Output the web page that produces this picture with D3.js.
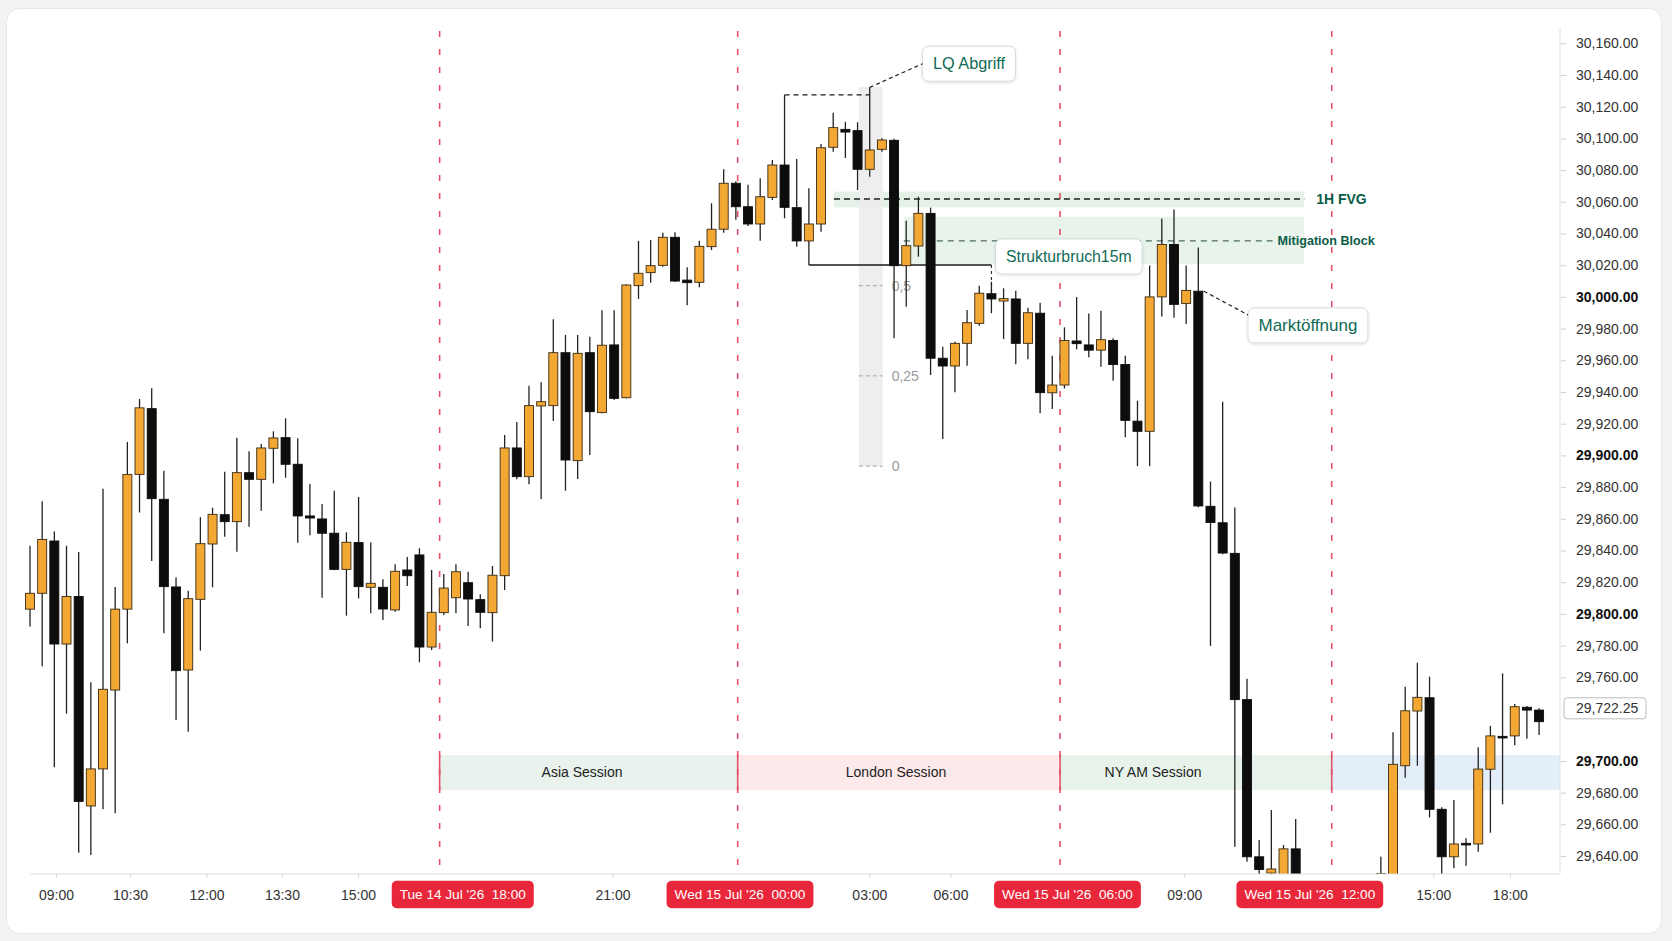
<!DOCTYPE html>
<html><head><meta charset="utf-8">
<script src="https://cdn.jsdelivr.net/npm/d3@7"></script>
<style>
html,body{margin:0;padding:0;background:#f3f3f3;}
svg{display:block;font-family:"Liberation Sans",Arial,Helvetica,sans-serif;}
</style></head><body>
<svg id="chart" width="1672" height="941"></svg>
<script>
// ---------------- DATA ----------------
// 15m candles, slot index 0..124 (null = candle outside the visible price window)
const opens = [29803,29813,29846,29781,29811,29671.6,29695,29744.5,29803,29888,
29929.5,29872.3,29817,29764.6,29809.2,29844.1,29862.6,29858.2,29889.1,29884.9,
29904.5,29911.2,29894.4,29861.8,29859.9,29850.9,29828.1,29845,29816.8,29816.8,
29802.5,29827.7,29837.2,29779.1,29800.8,29810.2,29819.7,29809,29800.8,29824.1,
29904.7,29886.6,29931.2,29931.4,29964.8,29896.7,29964.8,29927,29969.7,29936.4,
30007.1,30015.3,30019.9,30037.6,30010.6,30009.2,30031.7,30042.7,30071.7,30056.9,
30046,30062.8,30083.2,30056.3,30035.3,30046,30094.4,30105.7,30104.9,30080.5,
30093.1,30098.8,30019.7,30032.1,30052.7,29961.3,29956.4,29970.7,29983.3,30002,
29997.4,29998.7,29970.7,29989.7,29939.5,29944.4,29972.2,29969.7,29966.4,29972.5,
29957.3,29921.6,29915.2,30000,30033.1,29995.9,30003.6,29867.9,29857.5,29838.2,
29732.8,29639.5,29629.2,29620,29644.5,null,null,null,null,null,
null,29622,29618,29697,29721.1,29735.1,29669.5,29639.5,29648,29647.6,
29694.8,29710.4,29710.6,29723.5,29721.5];
const highs = [29843,29871,29852,29843,29839,29754,29879,29817,29908.5,29935.6,
29942.3,29890.3,29823,29814.6,29861,29867,29889.7,29911.2,29902.6,29907.2,
29915.2,29923.4,29910.8,29882,29869.3,29877.7,29851.5,29873.8,29845,29821.8,
29831.3,29835.9,29841.4,29827.7,29825.2,29831.3,29826.6,29812.4,29830.2,29912.9,
29921.1,29944,29946.1,29985.9,29976,29976,29974.9,29991.5,29991.5,30008,
30035.3,30035.9,30040.5,30040.8,30018.7,30035.5,30059.1,30080.5,30073,30070.8,
30074.8,30086.4,30127.4,30087,30068.5,30096.5,30116.2,30110.5,30110.2,30132.2,
30100.1,30099.8,30048.1,30063.2,30056.3,29968.6,29971.7,29991.7,30007.1,30009.6,
30005.4,30003.9,29993.2,29996.3,29962.8,29980.8,29999.9,29989.5,29991.2,29973.9,
29962.8,29934.5,30019.8,30049.5,30055.1,30019.8,30031.1,29883.5,29933.9,29867.1,
29758.3,29650.1,29669,29646.9,29663.4,null,null,null,null,null,
null,29639.5,29712.1,29748.6,29769.2,29760.4,29670.8,29675.4,29651.2,29705.8,
29714.8,29762.5,29727.5,29725.1,29722.25];
const lows = [29792,29767,29696,29720,29642,29640.6,29669.5,29667,29781.5,29864,
29833.4,29787.8,29717.3,29712.4,29776.8,29816.8,29848.7,29839.2,29855,29865.1,
29882.4,29885.9,29844.9,29849.6,29810.2,29827.5,29798.9,29809.8,29800.4,29796.2,
29801.4,29817.6,29769.5,29777.2,29799.3,29800.4,29792.4,29790.9,29782.5,29815.1,
29884.9,29881.8,29872.5,29921.7,29877.7,29885.1,29900.3,29926.6,29935,29936,
29998.7,30009,30019.1,30009.4,29994.7,30006.1,30029.6,30040.5,30048.6,30044.7,
30035.5,30061.1,30049.6,30031.7,30020.1,30041.1,30091.6,30087.6,30067.4,30075.8,
30091.6,29973.9,29993.8,30025.4,29950.7,29910.3,29939.8,29956.6,29981.8,29989.7,
29973.4,29957.5,29960.6,29926.6,29929.3,29942.2,29966.9,29962,29956,29947.1,
29911.4,29893.2,29893.2,29987.6,29986.8,29982.9,29867.3,29779.8,29837.6,29645.9,
29636.3,29625,29626,29615,29612,null,null,null,null,null,
null,29615,29612,29689.5,29697,29664.4,29627,29632.2,29633.9,29642.7,
29654.7,29672.6,29706.6,29709.4,29711];
const closes = [29813,29847,29781,29811,29674.5,29695,29745.4,29803,29888,29930,
29872.7,29817.2,29764.2,29809.6,29844.3,29862.8,29858.2,29889.1,29884.9,29904.7,
29911,29894.4,29861.8,29860.5,29850.9,29828.1,29845.2,29817.2,29819.3,29803.1,
29826.9,29824.1,29779.1,29801,29816.3,29826.6,29809.4,29801,29824.4,29904.7,
29886.6,29931.4,29933.9,29964.8,29897.1,29964.4,29927.6,29969.5,29936,30007.5,
30014.9,30019.7,30037.6,30010,30009,30031.9,30042.7,30071.7,30056.9,30046,
30063.2,30083.2,30056.5,30035.3,30046,30094.1,30106.8,30104,30080.5,30092.7,
30099,30019.7,30032.3,30052.7,29961.3,29956.4,29970.7,29983.7,30002.3,29998.7,
29998.9,29970.7,29990,29939.6,29944.4,29972.5,29970.5,29966.4,29973,29957.3,
29922.1,29915.2,30000,30033.1,29995.3,30004.1,29868.1,29857.7,29838.4,29732.8,
29639.5,29631.5,29631.8,29644.5,29620,null,null,null,null,null,
null,29629,29697.9,29721.2,29735.6,29669.5,29639.5,29647.6,29647.8,29694.9,
29710.6,29710.2,29724.2,29721.5,29716.6];

// axis labels
const yTickValues = [30160,30140,30120,30100,30080,30060,30040,30020,30000,29980,29960,29940,29920,29900,
  29880,29860,29840,29820,29800,29780,29760,29700,29680,29660,29640];
const yBoldTicks = [30000, 29900, 29800, 29700];
const lastPrice = 29722.25;
const xTickPos = [2.14, 8.22, 14.5, 20.7, 26.95, 47.86, 68.97, 75.63, 94.85, 115.3, 121.6];
const xTickLabels = ["09:00","10:30","12:00","13:30","15:00","21:00","03:00","06:00","09:00","15:00","18:00"];
const dateBadgePos = [35.56, 58.34, 85.25, 105.16];
const dateBadgeLabels = ["Tue 14 Jul '26  18:00","Wed 15 Jul '26  00:00","Wed 15 Jul '26  06:00","Wed 15 Jul '26  12:00"];

// sessions
const sessionBounds = [33.66, 58.15, 84.64, 106.96, 125.8];
const sessionNames = ["Asia Session","London Session","NY AM Session",""];
const sessionLabelPos = [45.36, 71.16, 92.28];
const sessionColors = ["#e9f2ec","#fde8ea","#e7f3ea","#e4eef8"];
const sessionPrices = [29702.5, 29681.7];

// zones & annotations (slot index / price)
const fvgZone = {x0: 66.06, x1: 104.7, lo: 30056.5, hi: 30066.4, line: 30061.8, label: "1H FVG"};
const mitZone = {x0: 71.8, x1: 104.7, lo: 30020.8, hi: 30050.6, line: 30035.3, lineEnd: 102.1, label: "Mitigation Block"};
const fibRange = {x0: 68.1, x1: 70.06, low: 29893.2, high: 30121, top: 30132.4};
const fibLevels = [0, 0.25, 0.5];
const fibLabels = ["0", "0,25", "0,5"];
const lqLine = {from: 62, to: 69, price: 30127.4};
const structLine = {from: 64, to: 79, price: 30020.1, target: 30002};
const boxes = [
  {text: "LQ Abgriff", idx: 77.16, price: 30147.1, size: 16.3, aIdx: 69, aPrice: 30132.2},
  {text: "Strukturbruch15m", idx: 85.36, price: 30025.5, size: 15.8},
  {text: "Marktöffnung", idx: 105.01, price: 29982, size: 17, aIdx: 96, aPrice: 30003.6}
];

// ---------------- CHART ----------------
const svg = d3.select("#chart");
const plotBottom = 874, plotRight = 1560;

const defs = svg.append("defs");
defs.append("clipPath").attr("id","plotClip").append("rect")
  .attr("x",0).attr("y",0).attr("width",plotRight).attr("height",plotBottom);
const f = defs.append("filter").attr("id","sh").attr("x","-20%").attr("y","-30%").attr("width","140%").attr("height","170%");
f.append("feDropShadow").attr("dx",0).attr("dy",1).attr("stdDeviation",1.6)
  .attr("flood-color","#000").attr("flood-opacity",0.13);

// card
svg.append("rect").attr("x",6.5).attr("y",8.5).attr("width",1655).attr("height",925)
  .attr("rx",13).attr("fill","#fff").attr("stroke","#e7e7e7");

const x = d3.scaleLinear().domain([0,124]).range([30, 30 + 12.17*124]);
const y = d3.scaleLinear()
  .domain([29640, 29700, 29722.25, 29760, 30160])
  .range([856, 761, 708.3, 677.3, 43.3]);

const bodyW = 9;

// session bands
const bandY0 = y(sessionPrices[0]), bandY1 = y(sessionPrices[1]);
const gBands = svg.append("g");
for (let i = 0; i < 4; i++) {
  const x0 = x(sessionBounds[i]), x1 = Math.min(plotRight, x(sessionBounds[i+1]));
  gBands.append("rect").attr("x",x0).attr("y",bandY0).attr("width",x1-x0).attr("height",bandY1-bandY0)
    .attr("fill",sessionColors[i]);
}
sessionLabelPos.forEach((p,i)=>{
  gBands.append("text").attr("x",x(p)).attr("y",(bandY0+bandY1)/2).attr("dy","0.35em")
    .attr("text-anchor","middle").attr("font-size",14).attr("fill","#222").text(sessionNames[i]);
});

// FVG and mitigation zones
svg.append("rect").attr("x",x(fvgZone.x0)).attr("y",y(fvgZone.hi))
  .attr("width",x(fvgZone.x1)-x(fvgZone.x0)).attr("height",y(fvgZone.lo)-y(fvgZone.hi)).attr("fill","#e3f1e7");
svg.append("rect").attr("x",x(mitZone.x0)).attr("y",y(mitZone.hi))
  .attr("width",x(mitZone.x1)-x(mitZone.x0)).attr("height",y(mitZone.lo)-y(mitZone.hi)).attr("fill","#e7f3eb");

// fib band
const fx0 = x(fibRange.x0), fx1 = x(fibRange.x1);
svg.append("rect").attr("x",fx0).attr("y",y(fibRange.top)).attr("width",fx1-fx0)
  .attr("height",y(fibRange.low)-y(fibRange.top)).attr("fill","#ececec").attr("opacity",0.9);
fibLevels.forEach((lv,i)=>{
  const py = y(fibRange.low + lv*(fibRange.high-fibRange.low));
  svg.append("line").attr("x1",fx0).attr("x2",fx1).attr("y1",py).attr("y2",py)
    .attr("stroke","#b3b3b3").attr("stroke-width",1.2).attr("stroke-dasharray","4,3");
  svg.append("text").attr("x",fx1+9).attr("y",py).attr("dy","0.35em").attr("font-size",14)
    .attr("fill","#9a9a9a").text(fibLabels[i]);
});

// session separator lines
sessionBounds.slice(0,4).forEach(b=>{
  svg.append("line").attr("x1",x(b)).attr("x2",x(b)).attr("y1",31).attr("y2",plotBottom)
    .attr("stroke","#e4506a").attr("stroke-width",1.6).attr("stroke-dasharray","6,12");
  svg.append("line").attr("x1",x(b)).attr("x2",x(b)).attr("y1",bandY0).attr("y2",bandY1)
    .attr("stroke","#e4506a").attr("stroke-width",1.6);
});

// FVG / mitigation dashed lines + labels
svg.append("line").attr("x1",x(fvgZone.x0)).attr("x2",x(fvgZone.x1))
  .attr("y1",y(fvgZone.line)).attr("y2",y(fvgZone.line))
  .attr("stroke","#1d1d1d").attr("stroke-width",1.4).attr("stroke-dasharray","6,4");
svg.append("text").attr("x",x(fvgZone.x1)+12).attr("y",y(fvgZone.line)).attr("dy","0.35em")
  .attr("font-size",14).attr("font-weight","bold").attr("fill","#0c5c48").text(fvgZone.label);
svg.append("line").attr("x1",x(mitZone.x0)).attr("x2",x(mitZone.lineEnd))
  .attr("y1",y(mitZone.line)).attr("y2",y(mitZone.line))
  .attr("stroke","#4f6c62").attr("stroke-width",1.2).attr("stroke-dasharray","6,5");
svg.append("text").attr("x",x(mitZone.lineEnd)+5).attr("y",y(mitZone.line)).attr("dy","0.35em")
  .attr("font-size",12.6).attr("font-weight","bold").attr("fill","#0c5c48").text(mitZone.label);

// structure break line
svg.append("line").attr("x1",x(structLine.from)).attr("x2",x(structLine.to))
  .attr("y1",y(structLine.price)).attr("y2",y(structLine.price))
  .attr("stroke","#1a1a1a").attr("stroke-width",1.5);
svg.append("line").attr("x1",x(structLine.to)).attr("x2",x(structLine.to))
  .attr("y1",y(structLine.price)).attr("y2",y(structLine.target))
  .attr("stroke","#333").attr("stroke-width",1.2).attr("stroke-dasharray","3,3");

// LQ dashed line
svg.append("line").attr("x1",x(lqLine.from)).attr("x2",x(lqLine.to))
  .attr("y1",y(lqLine.price)).attr("y2",y(lqLine.price))
  .attr("stroke","#1a1a1a").attr("stroke-width",1.3).attr("stroke-dasharray","5,4");

// candles
const gC = svg.append("g").attr("clip-path","url(#plotClip)");
const idx = d3.range(opens.length).filter(i => opens[i] !== null);
gC.selectAll("line.wick").data(idx).join("line").attr("class","wick")
  .attr("x1",i=>x(i)).attr("x2",i=>x(i)).attr("y1",i=>y(highs[i])).attr("y2",i=>y(lows[i]))
  .attr("stroke","#222").attr("stroke-width",1.3);
gC.selectAll("rect.body").data(idx).join("rect").attr("class","body")
  .attr("x",i=>x(i)-bodyW/2).attr("width",bodyW)
  .attr("y",i=>y(Math.max(opens[i],closes[i])))
  .attr("height",i=>Math.max(1.6, Math.abs(y(opens[i])-y(closes[i]))))
  .attr("fill",i=>closes[i]>=opens[i] ? "#f4a834" : "#0d0d0d")
  .attr("stroke",i=>closes[i]>=opens[i] ? "#3a2a12" : "#0d0d0d").attr("stroke-width",0.9);

// annotation boxes
boxes.forEach(b=>{
  const g = svg.append("g");
  const cx = x(b.idx), cy = y(b.price);
  const t = g.append("text").attr("x",cx).attr("y",cy).attr("dy","0.35em").attr("text-anchor","middle")
    .attr("font-size",b.size).attr("fill","#0f6a56").text(b.text);
  const tw = t.node().getComputedTextLength();
  const bw = tw + 21, bh = 35;
  g.insert("rect","text").attr("x",cx-bw/2).attr("y",cy-bh/2).attr("width",bw).attr("height",bh)
    .attr("rx",6).attr("fill","#fff").attr("stroke","#d3dbde").attr("filter","url(#sh)");
  if (b.aIdx !== undefined) {
    const ax = b.aIdx === 96 ? x(b.aIdx) + bodyW/2 + 1 : x(b.aIdx);
    const ay = y(b.aPrice);
    const ex = cx - bw/2, ey = b.aIdx === 96 ? cy - bh/2 + 7 : cy;
    svg.append("line").attr("x1",ax).attr("y1",ay).attr("x2",ex).attr("y2",ey)
      .attr("stroke","#222").attr("stroke-width",1.2).attr("stroke-dasharray","4,3");
  }
});

// x axis
svg.append("line").attr("x1",30).attr("x2",plotRight).attr("y1",plotBottom).attr("y2",plotBottom)
  .attr("stroke","#dedede").attr("stroke-width",1);
const xAxis = d3.axisBottom(x).tickValues(xTickPos).tickFormat((d,i)=>xTickLabels[i])
  .tickSize(4).tickPadding(12);
const gx = svg.append("g").attr("transform",`translate(0,${plotBottom})`).call(xAxis);
gx.select(".domain").remove();
gx.selectAll(".tick line").attr("stroke","#d6d6d6");
gx.selectAll(".tick text").attr("font-size",14).attr("fill","#333")
  .attr("font-family","'Liberation Sans',Arial,sans-serif");

// date badges
dateBadgePos.forEach((p,i)=>{
  const g = svg.append("g");
  const t = g.append("text").attr("x",x(p)).attr("y",894.5).attr("dy","0.35em").attr("text-anchor","middle")
    .attr("font-size",13.6).attr("fill","#fff").attr("xml:space","preserve").style("white-space","pre")
    .text(dateBadgeLabels[i]);
  const tw = t.node().getComputedTextLength();
  g.insert("rect","text").attr("x",x(p)-tw/2-8).attr("y",880.7).attr("width",tw+16).attr("height",27.6)
    .attr("rx",5).attr("fill","#e8283a");
});

// y axis
svg.append("line").attr("x1",plotRight).attr("x2",plotRight).attr("y1",28).attr("y2",plotBottom)
  .attr("stroke","#e2e2e2");
const yAxis = d3.axisRight(y).tickValues(yTickValues).tickFormat(d3.format(",.2f"))
  .tickSize(5).tickPadding(10);
const gy = svg.append("g").attr("transform",`translate(${plotRight+1},0)`).call(yAxis);
gy.select(".domain").remove();
gy.selectAll(".tick line").attr("stroke","#d0d0d0");
gy.selectAll(".tick text").attr("font-size",14)
  .attr("font-family","'Liberation Sans',Arial,sans-serif")
  .attr("fill",d=>yBoldTicks.includes(d)?"#111":"#333")
  .attr("font-weight",d=>yBoldTicks.includes(d)?"bold":"normal");

// last price box
const lp = svg.append("g");
lp.append("text").attr("x",plotRight+16).attr("y",y(lastPrice)).attr("dy","0.35em")
  .attr("font-size",14).attr("fill","#333").text(d3.format(",.2f")(lastPrice));
lp.insert("rect","text").attr("x",plotRight+4).attr("y",y(lastPrice)-10.5).attr("width",82).attr("height",21)
  .attr("rx",3).attr("fill","#fff").attr("stroke","#bdbdbd");
</script>
</body></html>
